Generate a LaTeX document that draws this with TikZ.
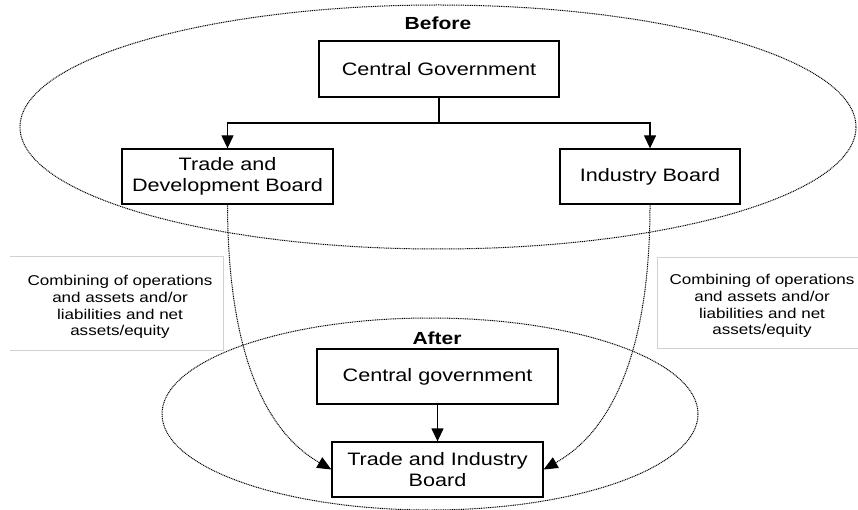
\documentclass[tikz,border=0pt]{standalone}
\usepackage{fontspec}
\setmainfont[FakeStretch=1.2]{Liberation Sans}
\usetikzlibrary{arrows.meta}
\begin{document}
\begin{tikzpicture}[x=1pt,y=-1pt,
  box/.style={draw=black,line width=1.3pt,inner sep=0pt,align=center,
    font=\fontsize{18}{21.5}\selectfont},
  lbl/.style={inner sep=0pt,align=center,font=\fontsize{14.2}{16.7}\selectfont},
  ttl/.style={inner sep=0pt,font=\fontsize{17.5}{20}\selectfont\bfseries},
  zone/.style={draw=black,line width=1pt,dash pattern=on 1pt off 0.8pt},
  flow/.style={draw=black,line width=1.3pt,-{Triangle[length=13pt,width=12pt]}},
  merge/.style={draw=black,line width=1pt,dash pattern=on 1pt off 0.8pt,
    -{Triangle[length=14pt,width=12pt]}},
  rule/.style={draw=black!18,line width=0.8pt}]
\useasboundingbox (0,0) rectangle (858,510);
% zones
\draw[zone] (438,127) ellipse [x radius=418, y radius=122];
\draw[zone] (430,414) ellipse [x radius=268, y radius=96];
% before
\node[ttl] (before) at (438,23) {Before};
\node[box,minimum width=240pt,minimum height=56pt] (cg1) at (439,69) {Central Government};
\node[box,minimum width=211pt,minimum height=55pt] (tdb) at (227.5,176.5) {Trade and\\Development Board};
\node[box,minimum width=180pt,minimum height=55pt] (ib) at (650,176.5) {Industry Board};
\coordinate (split) at (439,123);
\draw[line width=1.3pt] (cg1.south) -- (split);
\draw[flow] (split) -| (tdb.north);
\draw[flow] (split) -| (ib.north);
% after
\node[ttl] (after) at (437,338) {After};
\node[box,minimum width=241pt,minimum height=55pt] (cg2) at (437.5,376.5) {Central government};
\node[box,minimum width=211pt,minimum height=55pt] (tib) at (437.5,469.5) {Trade and Industry\\Board};
\draw[flow] (cg2.south) -- (tib.north);
% merges
\draw[merge] (tdb.south) .. controls (228,380) and (280,440) .. (tib.west);
\draw[merge] (ib.south) .. controls (650,380) and (596,440) .. (tib.east);
% labels
\draw[rule] (10,256) -- (223,256) -- (223,350) -- (10,350);
\draw[rule] (858,257) -- (657,257) -- (657,348) -- (858,348);
\node[lbl] (note1) at (120,307) {Combining of operations\\and assets and/or\\liabilities and net\\assets/equity};
\node[lbl] (note2) at (762,306) {Combining of operations\\and assets and/or\\liabilities and net\\assets/equity};
\end{tikzpicture}
\end{document}
